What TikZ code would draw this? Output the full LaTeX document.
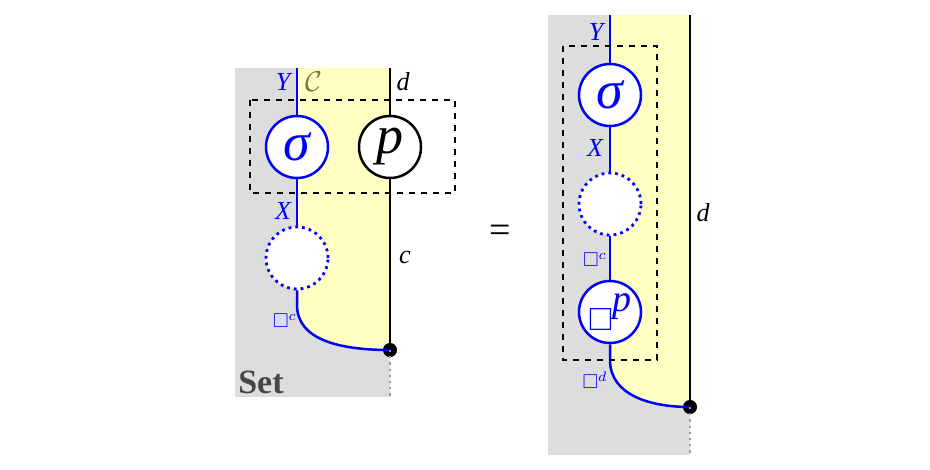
\documentclass[tikz,border=0pt]{standalone}
\usepackage{amssymb}
\usepackage{fontspec}
\setmainfont{Liberation Serif}
\definecolor{fondogris}{HTML}{DDDDDD}
\definecolor{fondoamarillo}{HTML}{FFFFC4}
\definecolor{oliva}{HTML}{7A7A40}
\tikzset{
  hilo/.style={line width=1.25pt},
  morfismo/.style={circle, draw, line width=1.25pt, fill=white, minimum size=31pt, inner sep=0pt},
  hueco/.style={circle, draw=blue, dotted, line width=1.4pt, fill=white, minimum size=31pt, inner sep=0pt},
  caja/.style={line width=1.1pt, dash pattern=on 3pt off 3pt},
  etiqueta/.style={font=\fontsize{13}{13}\selectfont\itshape},
}
\begin{document}
\begin{tikzpicture}[x=0.5pt, y=-0.5pt]
        \useasboundingbox (0,0) rectangle (930,470);

        % Fondos del lado izquierdo
        \fill[fondogris] (235,68) rectangle (390,397);
        \fill[fondoamarillo] (297,68) -- (390,68) -- (390,350)
            .. controls (340,350) and (297,340) .. (297,305) -- cycle;

        % Fondos del lado derecho
        \fill[fondogris] (548,15) rectangle (690,455);
        \fill[fondoamarillo] (610,15) -- (690,15) -- (690,407)
            .. controls (650,407) and (610,395) .. (610,360) -- cycle;

        % Puntos de anclaje
        \coordinate (arribaY) at (297,68);
        \coordinate (arribaD) at (390,68);
        \coordinate (abajoL) at (390,397);
        \coordinate (arribaYd) at (610,15);
        \coordinate (arribaDd) at (690,15);
        \coordinate (abajoR) at (690,455);

        % Diagrama izquierdo
        \node[morfismo, draw=blue, text=blue] (sigmaL) at (297,147) {\fontsize{27}{27}\selectfont\itshape σ};
        \node[morfismo] (pL) at (390,147) {\fontsize{27}{27}\selectfont\itshape p};
        \node[hueco] (huecoL) at (297,258) {};
        \filldraw (390,350) circle (3.3pt) coordinate (puntoL);

        \draw[hilo, blue] (arribaY) -- (sigmaL) -- (huecoL);
        \draw[hilo, blue] (huecoL.south) -- (297,305) .. controls (297,340) and (340,350) .. (puntoL);
        \draw[hilo] (arribaD) -- (pL) -- (puntoL);
        \draw[black!40, dotted, line width=1.1pt] (puntoL) -- (abajoL);
        \draw[caja] (250,100) rectangle (455,193);

        % Etiquetas izquierda
        \node[etiqueta, blue] (Yl) at (283,82) {Y};
        \node[oliva] (Cl) at (314,82) {\fontsize{15}{15}\selectfont$\mathcal{C}$};
        \node[etiqueta] (dl) at (403,82) {d};
        \node[etiqueta, blue] (Xl) at (283,211) {X};
        \node[etiqueta] (cl) at (405,257) {c};
        \node[blue] (cuadroc) at (285,321) {\fontsize{10}{10}\selectfont$\square^{c}$};
        \node[text=black!72] (Set) at (261,382) {\fontsize{17}{17}\selectfont\bfseries Set};

        % Igualdad
        \node (igual) at (500,234) {\fontsize{19}{19}\selectfont =};

        % Diagrama derecho
        \node[morfismo, draw=blue, text=blue] (sigmaR) at (610,95) {\fontsize{27}{27}\selectfont\itshape σ};
        \node[hueco] (huecoR) at (610,204) {};
        \node[morfismo, draw=blue, text=blue] (cuadroP) at (610,312)
            {\fontsize{16}{16}\selectfont$\square$\raisebox{1.3ex}{\fontsize{19}{19}\selectfont\itshape p}};
        \filldraw (690,407) circle (3.3pt) coordinate (puntoR);

        \draw[hilo, blue] (arribaYd) -- (sigmaR) -- (huecoR) -- (cuadroP);
        \draw[hilo, blue] (cuadroP.south) -- (610,360) .. controls (610,395) and (650,407) .. (puntoR);
        \draw[hilo] (arribaDd) -- (puntoR);
        \draw[black!40, dotted, line width=1.1pt] (puntoR) -- (abajoR);
        \draw[caja] (563,46) rectangle (657,360);

        % Etiquetas derecha
        \node[etiqueta, blue] (Yr) at (596,32) {Y};
        \node[etiqueta, blue] (Xr) at (595,148) {X};
        \node[blue] (cuadroc2) at (595,260) {\fontsize{10}{10}\selectfont$\square^{c}$};
        \node[blue] (cuadrod) at (595,380) {\fontsize{10}{10}\selectfont$\square^{d}$};
        \node[etiqueta] (dr) at (703,213) {d};
\end{tikzpicture}
\end{document}
